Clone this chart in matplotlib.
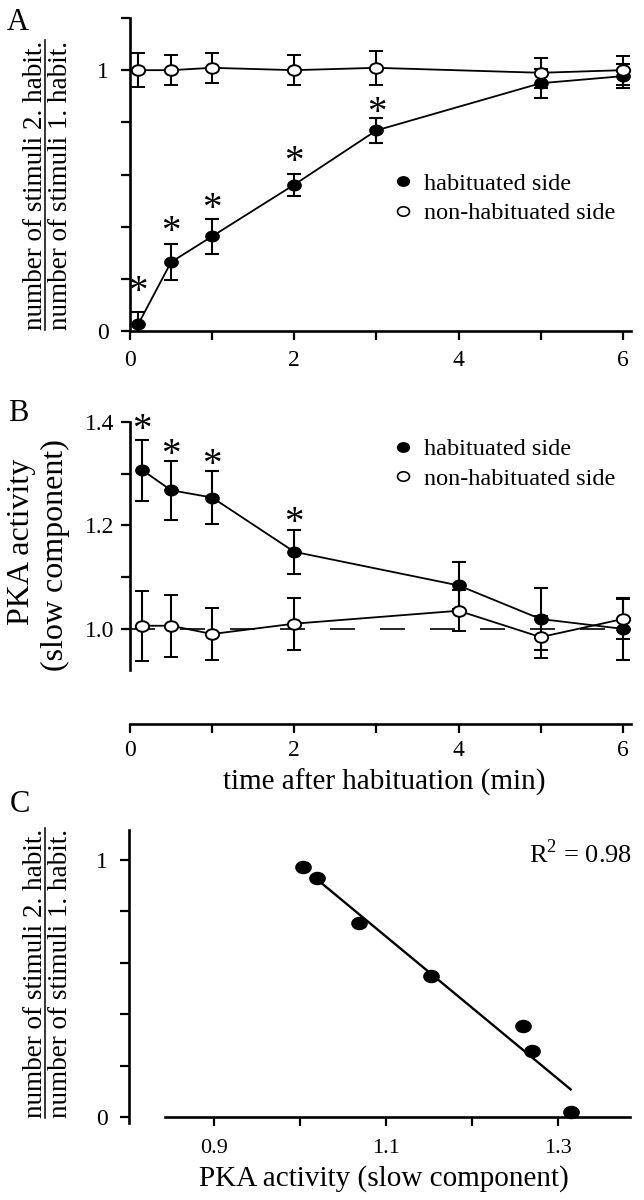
import numpy as np
import matplotlib
matplotlib.use('Agg')
import matplotlib.pyplot as plt
from matplotlib.path import Path
from matplotlib.lines import Line2D

plt.rcParams['font.family'] = ['Liberation Serif', 'DejaVu Serif']
plt.rcParams['mathtext.fontset'] = 'custom'
plt.rcParams['mathtext.rm'] = 'Liberation Serif'

# panel A: ratio of stimuli (2. / 1. habituation)
time_a = [0.1, 0.5, 1, 2, 3, 5, 6]
hab_a = [0.026, 0.264, 0.363, 0.561, 0.769, 0.950, 0.977]
hab_a_err = [0.047, 0.070, 0.068, 0.042, 0.047, 0.056, 0.047]
nonhab_a = [1.0, 1.0, 1.009, 1.0, 1.009, 0.990, 1.0]
nonhab_a_err = [0.066, 0.057, 0.057, 0.057, 0.066, 0.057, 0.055]
star_a_x = [0.1, 0.5, 1, 2, 3]
star_a_y = [0.19, 0.42, 0.505, 0.685, 0.875]

# panel B: PKA activity (slow component)
time_b = [0.15, 0.5, 1, 2, 4, 5, 6]
hab_b = [1.307, 1.268, 1.254, 1.149, 1.084, 1.019, 1.0]
hab_b_err = [0.059, 0.057, 0.051, 0.042, 0.045, 0.060, 0.060]
nonhab_b = [1.006, 1.006, 0.990, 1.010, 1.035, 0.984, 1.019]
nonhab_b_err = [0.068, 0.060, 0.050, 0.050, 0.040, 0.040, 0.038]
star_b_x = [0.15, 0.5, 1, 2]
star_b_y = [1.405, 1.356, 1.337, 1.224]
ref_level = 1.0
ref_x = [0.0, 6.17]

# panel C: ratio vs PKA activity
pka_c = [1.003, 1.020, 1.069, 1.152, 1.259, 1.270, 1.315]
ratio_c = [0.974, 0.932, 0.757, 0.548, 0.355, 0.258, 0.021]
fit_x = np.array([1.017, 1.315])
r2_label = 'R$^2$ = 0.98'

labels = ['habituated side', 'non-habituated side']
ratio_label = ['number of stimuli 2. habit.', 'number of stimuli 1. habit.']

# slightly flattened circle, like in the figure
circ = Path.unit_circle()
ell = Path(circ.vertices * [1.0, 0.79], circ.codes)

W, H = 644, 1200
fig = plt.figure(figsize=(W / 100, H / 100), dpi=100)

def px_axes(left, top, right, bottom):
    return fig.add_axes([left / W, 1 - bottom / H, (right - left) / W, (bottom - top) / H])

def style(ax):
    ax.spines['top'].set_visible(False)
    ax.spines['right'].set_visible(False)
    for s in ('left', 'bottom'):
        ax.spines[s].set_linewidth(1.9)
    ax.tick_params(direction='out', length=6.5, width=1.6, labelsize=17)

def plot_pair(ax, x, hab, hab_err, nonhab, nonhab_err):
    ax.errorbar(x, hab, yerr=hab_err, color='k', lw=1.3, elinewidth=1.5,
                capsize=4.7, capthick=1.5, marker=ell, ms=9.6, mfc='k',
                mec='k', zorder=3)
    ax.errorbar(x, nonhab, yerr=nonhab_err, color='k', lw=1.3, elinewidth=1.5,
                capsize=4.7, capthick=1.5, marker=ell, ms=9.6, mfc='white',
                mec='k', mew=1.4, zorder=4)

def add_legend(ax, y):
    h1 = Line2D([], [], ls='none', marker=ell, ms=8.6, mfc='k', mec='k')
    h2 = Line2D([], [], ls='none', marker=ell, ms=8.6, mfc='white', mec='k', mew=1.2)
    ax.legend([h1, h2], labels, loc='center left', bbox_to_anchor=(0.521, y),
              frameon=False, fontsize=17.5, handlelength=1.0, handletextpad=0.35,
              borderpad=0, borderaxespad=0, labelspacing=0.3)

def add_stars(ax, xs, ys):
    for x, y in zip(xs, ys):
        ax.annotate('*', (x, y), xytext=(0, -14.5), textcoords='offset points',
                    ha='center', va='baseline', fontsize=28, annotation_clip=False)

def fraction_label(xb, yc, y0, y1):
    fig.text(xb[0] / W, 1 - yc / H, ratio_label[0], rotation=90, rotation_mode='anchor',
             ha='center', va='baseline', fontsize=19.5)
    fig.text(xb[1] / W, 1 - yc / H, ratio_label[1], rotation=90, rotation_mode='anchor',
             ha='center', va='baseline', fontsize=19.5)
    fig.add_artist(Line2D([(xb[0] + 2.5) / W] * 2, [1 - y1 / H, 1 - y0 / H], color='k', lw=1.1))

# ---- A
axA = px_axes(130, 18, 631, 331)
style(axA)
plot_pair(axA, time_a, hab_a, hab_a_err, nonhab_a, nonhab_a_err)
add_stars(axA, star_a_x, star_a_y)
axA.set_xlim(0, 6.1)
axA.set_ylim(0, 1.2)
axA.set_xticks(range(7))
axA.set_xticklabels(['0', '', '2', '', '4', '', '6'])
axA.set_yticks(np.arange(0, 1.21, 0.2))
axA.set_yticklabels(['0', '', '', '', '', '1', ''])
axA.tick_params(axis='x', pad=7)
axA.tick_params(axis='y', pad=9)
add_legend(axA, 0.423)
fraction_label((42, 67), 185, 40, 330)
fig.text(18 / W, 1 - 22 / H, 'A', fontsize=22, ha='center', va='center')

# ---- B
axB = px_axes(130, 422, 631, 724)
style(axB)
axB.plot(ref_x, [ref_level, ref_level], color='k', lw=1.2, ls=(0, (15, 15)), zorder=1)
plot_pair(axB, time_b, hab_b, hab_b_err, nonhab_b, nonhab_b_err)
add_stars(axB, star_b_x, star_b_y)
axB.set_xlim(0, 6.1)
axB.set_ylim(0.816, 1.4)
axB.spines['left'].set_bounds(0.92, 1.4)
axB.set_xticks(range(7))
axB.set_xticklabels(['0', '', '2', '', '4', '', '6'])
axB.set_yticks([1.0, 1.1, 1.2, 1.3, 1.4])
axB.set_yticklabels(['1.0', '', '1.2', '', '1.4'])
axB.tick_params(axis='x', pad=5)
axB.tick_params(axis='y', pad=5)
add_legend(axB, 0.861)
axB.set_xlabel('time after habituation (min)', fontsize=21, va='center')
axB.xaxis.set_label_coords(0.507, -0.192)
fig.text(29 / W, 1 - 542 / H, 'PKA activity', rotation=90, rotation_mode='anchor',
         ha='center', va='baseline', fontsize=23)
fig.text(63 / W, 1 - 555 / H, '(slow component)', rotation=90, rotation_mode='anchor',
         ha='center', va='baseline', fontsize=23)
fig.text(18 / W, 1 - 413 / H, 'B', fontsize=22, ha='center', va='center')

# ---- C
axC = px_axes(129, 830, 630, 1123)
style(axC)
axC.plot(pka_c, ratio_c, ls='none', marker=ell, ms=11, mfc='k', mec='k', zorder=3)
slope, icpt = np.polyfit(pka_c, ratio_c, 1)
axC.plot(fit_x, slope * fit_x + icpt, color='k', lw=1.7, zorder=2)
axC.set_xlim(0.801, 1.384)
axC.set_ylim(-0.023, 1.117)
axC.spines['bottom'].set_position(('data', 0))
axC.spines['bottom'].set_bounds(0.843, 1.384)
axC.set_xticks([0.9, 1.0, 1.1, 1.2, 1.3])
axC.set_xticklabels(['0.9', '', '1.1', '', '1.3'])
axC.set_yticks(np.arange(0, 1.01, 0.2))
axC.set_yticklabels(['0', '', '', '', '', '1'])
axC.tick_params(axis='x', pad=9, labelsize=16)
axC.tick_params(axis='y', pad=9)
axC.text(1.004, 0.92, r2_label, transform=axC.transAxes, ha='right', va='center', fontsize=19)
axC.set_xlabel('PKA activity (slow component)', fontsize=21, va='center')
axC.xaxis.set_label_coords(0.509, -0.188)
fraction_label((42, 67), 973, 828, 1118)
fig.text(20 / W, 1 - 805 / H, 'C', fontsize=22, ha='center', va='center')

fig.savefig('out.png', dpi=100)
